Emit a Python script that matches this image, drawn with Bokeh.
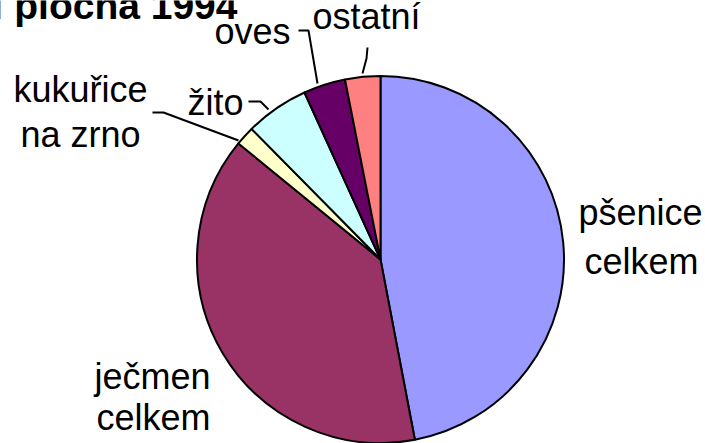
import math
from bokeh.plotting import figure
from bokeh.models import Range1d, ColumnDataSource
from bokeh.core.properties import value
from bokeh.embed import file_html
from bokeh.resources import INLINE

# data
categories = ["pšenice celkem", "ječmen celkem", "kukuřice na zrno", "žito", "oves", "ostatní"]
shares = [47.0, 38.9, 1.7, 5.6, 3.7, 3.1]
colors = ["#9999FF", "#993366", "#FFFFCC", "#CCFFFF", "#660066", "#FF8080"]
title_text = "Osevní plocha 1994"

W, H = 705, 443


def Y(v):
    return H - v


p = figure(width=W, height=H, output_backend="svg", toolbar_location=None,
           x_range=Range1d(0, W), y_range=Range1d(0, H), min_border=0)
p.axis.visible = False
p.grid.visible = False
p.outline_line_color = None
p.background_fill_color = "white"
p.border_fill_color = "white"

total = sum(shares)
starts, ends = [], []
cum = 0.0
for s in shares:
    starts.append(math.pi / 2 - 2 * math.pi * cum / total)
    cum += s
    ends.append(math.pi / 2 - 2 * math.pi * cum / total)

src = ColumnDataSource(dict(start=starts, end=ends, color=colors, cat=categories))
cx, cy, r = 380, Y(259), 183.5
p.wedge(x=cx, y=cy, radius=r, start_angle="start", end_angle="end", direction="clock",
        fill_color="color", line_color="black", line_width=2, source=src)

font = value("Liberation Sans")
# labels (text lines, x, y, align)
label_lines = [
    ("pšenice", 640, 212, "center"), ("celkem", 641, 261, "center"),
    ("ječmen", 152, 376, "center"), ("celkem", 153, 417, "center"),
    ("kukuřice", 80, 89, "center"), ("na zrno", 80, 134, "center"),
    ("žito", 243, 102, "right"),
    ("oves", 290, 31, "right"),
    ("ostatní", 312, 16, "left"),
]
for t, x, y, al in label_lines:
    p.text(x=[x], y=[Y(y)], text=[t], text_font=font, text_font_size="36px",
           text_align=al, text_baseline="alphabetic", text_color="black")

# leader lines
leaders = [
    ([298, 308, 317], [30, 30, 83]),
    ([248, 260, 268], [101, 101, 109]),
    ([152, 163, 238], [112, 112, 140]),
    ([367, 366, 362], [47, 58, 73]),
]
for xs, ys in leaders:
    p.line(xs, [Y(v) for v in ys], line_color="black", line_width=2)

p.text(x=[237], y=[Y(5)], text=[title_text], text_font=font, text_font_size="39px",
       text_font_style="bold", text_align="right", text_baseline="alphabetic", text_color="black")

open("out.html", "w").write(file_html(p, INLINE))
